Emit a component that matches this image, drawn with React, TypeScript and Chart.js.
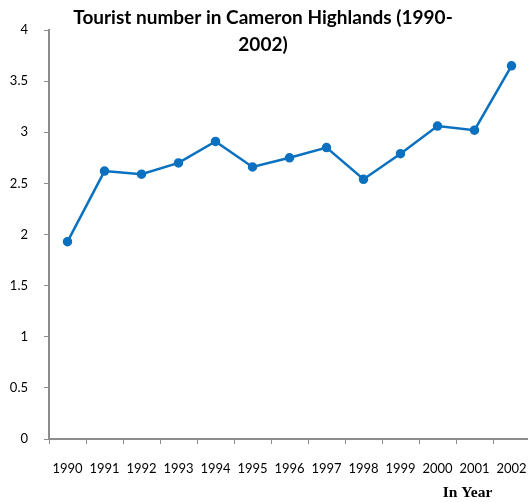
import React, { useEffect, useRef } from "react";
import { Chart, registerables } from "chart.js";

Chart.register(...registerables);

const years = ["1990", "1991", "1992", "1993", "1994", "1995", "1996", "1997", "1998", "1999", "2000", "2001", "2002"];
const tourists = [1.93, 2.62, 2.59, 2.7, 2.91, 2.66, 2.75, 2.85, 2.54, 2.79, 3.06, 3.02, 3.65];
const titleLines = ["Tourist number in Cameron Highlands (1990-", "2002)"];
const xAxisLabel = "In Year";

const overlayText = {
  id: "overlayText",
  afterDraw(chart: any) {
    const ctx = chart.ctx;
    ctx.save();
    ctx.fillStyle = "#000";
    ctx.textAlign = "center";
    ctx.textBaseline = "middle";
    ctx.font = "bold 19px Lato";
    ctx.fillText(titleLines[0], 263, 18);
    ctx.fillText(titleLines[1], 263, 45);
    ctx.font = "bold 15.5px 'Liberation Serif'";
    ctx.fillText(xAxisLabel, 467.5, 493);
    ctx.restore();
  },
};

export default function App() {
  const ref = useRef<HTMLCanvasElement>(null);
  useEffect(() => {
    const chart = new Chart(ref.current!, {
      type: "line",
      data: {
        labels: years,
        datasets: [
          {
            data: tourists,
            borderColor: "#0a70c0",
            backgroundColor: "#0a70c0",
            borderWidth: 2.5,
            pointRadius: 3.5,
            pointHoverRadius: 3.5,
            tension: 0,
          },
        ],
      },
      options: {
        animation: false,
        responsive: false,
        layout: { padding: { top: 30, right: 2.5, left: 0, bottom: 0 } },
        plugins: { legend: { display: false }, title: { display: false }, tooltip: { enabled: false } },
        scales: {
          x: {
            offset: true,
            grid: { offset: true, drawOnChartArea: false, drawTicks: true, tickLength: 5, color: "#8c8c8c", lineWidth: 1 },
            border: { color: "#8c8c8c", width: 2 },
            ticks: { color: "#000", font: { family: "Lato", size: 13 }, padding: 17, maxRotation: 0, autoSkip: false },
            afterFit: (s: any) => { s.height = 63; s.paddingLeft = 0; s.paddingRight = 0; },
          },
          y: {
            min: 0,
            max: 4,
            grid: { drawOnChartArea: false, drawTicks: true, tickLength: 5, color: "#8c8c8c", lineWidth: 1 },
            border: { color: "#8c8c8c", width: 2 },
            ticks: {
              stepSize: 0.5,
              color: "#000",
              font: { family: "Lato", size: 13 },
              padding: 16,
              callback: (v: any) => String(Number(v)),
            },
            afterFit: (s: any) => { s.width = 49; },
          },
        },
      },
      plugins: [overlayText],
    });
    return () => chart.destroy();
  }, []);
  return (
    <div style={{ position: "fixed", left: 0, top: 0, width: 528, height: 502, overflow: "hidden", background: "#fff" }}>
      <canvas ref={ref} width={536} height={502} style={{ width: 536, height: 502 }} />
    </div>
  );
}
